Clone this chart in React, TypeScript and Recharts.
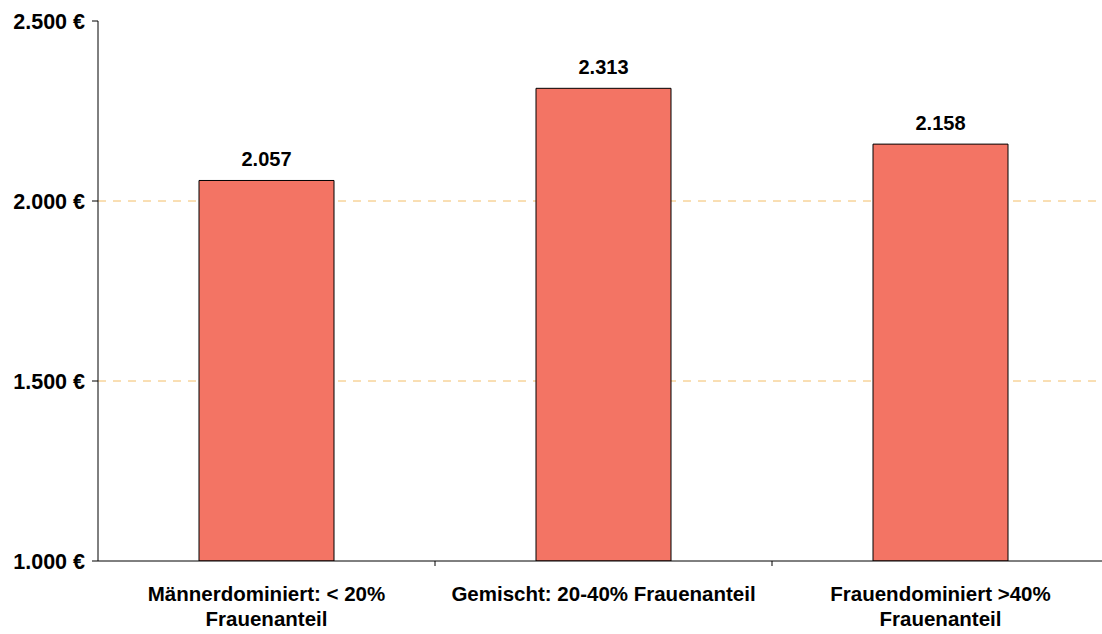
import React from 'react';
import { BarChart, Bar, XAxis, YAxis, CartesianGrid, LabelList } from 'recharts';

const categories = [
  'Männerdominiert: < 20%\nFrauenanteil',
  'Gemischt: 20-40% Frauenanteil',
  'Frauendominiert >40%\nFrauenanteil',
];
const values = [2057, 2313, 2158];
const yTicks = [1000, 1500, 2000, 2500];
const gridValues = [1500, 2000];

const data = categories.map((c, i) => ({ name: c, value: values[i] }));

const FONT = '"Liberation Sans", Arial, sans-serif';

const fmtNum = (v: number) => String(Math.round(v)).replace(/\B(?=(\d{3})+(?!\d))/g, '.');

const XTick = (props: any) => {
  const { x, y, payload, index } = props;
  const lines = String(payload.value).split('\n');
  const half = payload.offset || 0;
  return (
    <g>
      {index < categories.length - 1 && (
        <line x1={x + half} x2={x + half} y1={y} y2={y + 5} stroke="#000" strokeWidth={1} />
      )}
      <text x={x} y={y} textAnchor="middle" fontFamily={FONT} fontWeight="bold" fontSize={20.5} fill="#000">
        {lines.map((l, i) => (
          <tspan key={i} x={x} y={y + 40 + i * 25}>
            {l}
          </tspan>
        ))}
      </text>
    </g>
  );
};

export default function App() {
  return (
    <div style={{ position: 'absolute', left: 0, top: 0, width: 1102, height: 634, overflow: 'hidden', background: '#fff' }}>
      <BarChart
        width={1110}
        height={634}
        data={data}
        margin={{ top: 21, right: 1, bottom: 0, left: 0 }}
        barCategoryGap={101}
      >
        <CartesianGrid
          vertical={false}
          horizontalValues={gridValues}
          stroke="#F3BE68"
          strokeDasharray="8 7"
        />
        <XAxis
          dataKey="name"
          height={73}
          tickLine={false}
          tickSize={0}
          tickMargin={0}
          axisLine={{ stroke: '#000', strokeWidth: 1 }}
          tick={<XTick />}
          interval={0}
        />
        <YAxis
          width={98}
          domain={[1000, 2500]}
          ticks={yTicks}
          allowDataOverflow
          tickSize={6}
          tickMargin={7}
          axisLine={{ stroke: '#000', strokeWidth: 1 }}
          tickLine={{ stroke: '#000', strokeWidth: 1 }}
          tick={{ fontFamily: FONT, fontWeight: 'bold', fontSize: 21.5, fill: '#000' }}
          tickFormatter={(v: number) => `${fmtNum(v)} €`}
        />
        <Bar dataKey="value" fill="#F37464" stroke="#000" strokeWidth={1} isAnimationActive={false}>
          <LabelList
            dataKey="value"
            position="top"
            offset={14}
            formatter={(v: any) => fmtNum(Number(v))}
            style={{ fontFamily: FONT, fontWeight: 'bold', fontSize: 20, fill: '#000' }}
          />
        </Bar>
      </BarChart>
    </div>
  );
}
